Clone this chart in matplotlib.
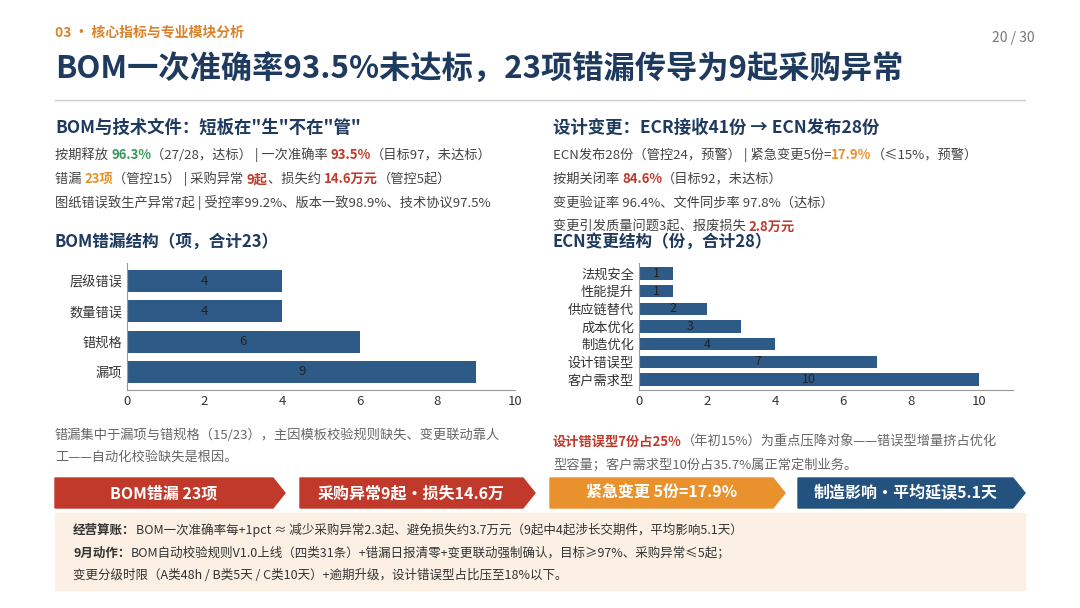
import matplotlib
matplotlib.use("Agg")
import matplotlib.pyplot as plt
from matplotlib.patches import Polygon, Rectangle

plt.rcParams['font.family'] = ['Noto Sans CJK SC', 'DejaVu Sans']

bom_cats = ["层级错误", "数量错误", "错规格", "漏项"]
bom_vals = [4, 4, 6, 9]
ecn_cats = ["法规安全", "性能提升", "供应链替代", "成本优化", "制造优化", "设计错误型", "客户需求型"]
ecn_vals = [1, 1, 2, 3, 4, 7, 10]
x_ticks = [0, 2, 4, 6, 8, 10]

W, H = 1080, 608
fig = plt.figure(figsize=(W/100, H/100), dpi=100)
NAVY = "#1f3a5f"; BAR = "#2e5a88"; GRAY = "#444444"
GREEN = "#3a9a5b"; RED = "#c0392b"; ORANGE = "#e8912d"

def T(x, y, s, **kw):
    kw.setdefault("va", "center")
    fig.text(x/W, 1-y/H, s, **kw)

def runs(x, y, parts, size=9.5):
    r = fig.canvas.get_renderer()
    cx = x
    for s, c, b in parts:
        t = fig.text(cx/W, 1-y/H, s, color=c, fontsize=size, va="center",
                     fontweight="bold" if b else "normal")
        bb = t.get_window_extent(renderer=r)
        cx += bb.width

T(55, 33, "03 • 核心指标与专业模块分析", color="#d9822b", fontsize=10, fontweight="bold")
T(1035, 38, "20 / 30", color="#777777", fontsize=10, ha="right")
T(55, 70, "BOM一次准确率93.5%未达标，23项错漏传导为9起采购异常", color=NAVY, fontsize=22.5, fontweight="bold")
fig.add_artist(plt.Line2D([55/W, 1025/W], [1-100/H]*2, color="#cccccc", lw=1))

T(55, 128, 'BOM与技术文件：短板在"生"不在"管"', color=NAVY, fontsize=12.5, fontweight="bold")
runs(55, 155, [("按期释放 ", GRAY, 0), ("96.3%", GREEN, 1), ("（27/28，达标） | 一次准确率 ", GRAY, 0), ("93.5%", RED, 1), ("（目标97，未达标）", GRAY, 0)])
runs(55, 179, [("错漏 ", GRAY, 0), ("23项", ORANGE, 1), ("（管控15） | 采购异常 ", GRAY, 0), ("9起", RED, 1), ("、损失约 ", GRAY, 0), ("14.6万元", RED, 1), ("（管控5起）", GRAY, 0)])
T(55, 203, "图纸错误致生产异常7起 | 受控率99.2%、版本一致98.9%、技术协议97.5%", color=GRAY, fontsize=9.5)
T(55, 242, "BOM错漏结构（项，合计23）", color=NAVY, fontsize=12, fontweight="bold")

T(553, 128, "设计变更：ECR接收41份 → ECN发布28份", color=NAVY, fontsize=12.5, fontweight="bold")
runs(553, 155, [("ECN发布28份（管控24，预警） | 紧急变更5份=", GRAY, 0), ("17.9%", ORANGE, 1), ("（≤15%，预警）", GRAY, 0)])
runs(553, 179, [("按期关闭率 ", GRAY, 0), ("84.6%", RED, 1), ("（目标92，未达标）", GRAY, 0)])
T(553, 203, "变更验证率 96.4%、文件同步率 97.8%（达标）", color=GRAY, fontsize=9.5)
runs(553, 227, [("变更引发质量问题3起、报废损失 ", GRAY, 0), ("2.8万元", RED, 1)])
T(553, 242, "ECN变更结构（份，合计28）", color=NAVY, fontsize=12, fontweight="bold")

def barchart(rect, cats, vals, xmax, fs):
    ax = fig.add_axes(rect)
    y = list(range(len(cats)))[::-1]
    ax.barh(y, vals, color=BAR, height=0.72 if len(cats) == 4 else 0.7)
    for yi, v in zip(y, vals):
        ax.text(v/2, yi, str(v), ha="center", va="center", fontsize=fs, color="#222222")
    ax.set_yticks(y); ax.set_yticklabels(cats, fontsize=fs, color="#333333")
    ax.set_xticks(x_ticks); ax.tick_params(labelsize=9.5, colors="#333333", length=0)
    ax.set_xlim(0, xmax); ax.set_ylim(-0.6, len(cats)-0.4)
    for s in ["top", "right"]:
        ax.spines[s].set_visible(False)
    for s in ["left", "bottom"]:
        ax.spines[s].set_color("#999999")
    ax.set_facecolor("none")
    return ax

barchart([127/W, 1-390/H, (515-127)/W, (390-263)/H], bom_cats, bom_vals, 10, 9.5)
barchart([639/W, 1-390/H, (1013-639)/W, (390-263)/H], ecn_cats, ecn_vals, 11, 9)

T(55, 435, "错漏集中于漏项与错规格（15/23），主因模板校验规则缺失、变更联动靠人", color="#666666", fontsize=9.5)
T(55, 457, "工——自动化校验缺失是根因。", color="#666666", fontsize=9.5)
runs(553, 442, [("设计错误型7份占25%", RED, 1), ("（年初15%）为重点压降对象——错误型增量挤占优化", "#666666", 0)])
T(553, 465, "型容量；客户需求型10份占35.7%属正常定制业务。", color="#666666", fontsize=9.5)

chev = [(55, 285, RED, "BOM错漏 23项"), (300, 535, RED, "采购异常9起•损失14.6万"),
        (550, 785, ORANGE, "紧急变更 5份=17.9%"), (798, 1025, "#24527f", "制造影响•平均延误5.1天")]
y0, y1 = 478, 508
for xa, xb, c, s in chev:
    pts = [(xa, y0), (xb-12, y0), (xb, (y0+y1)/2), (xb-12, y1), (xa, y1)]
    fig.add_artist(Polygon([(px/W, 1-py/H) for px, py in pts], closed=True, color=c, transform=fig.transFigure))
    T((xa+xb-12)/2, (y0+y1)/2, s, color="white", fontsize=11.5, fontweight="bold", ha="center")

fig.add_artist(Rectangle((55/W, 1-590/H), 970/W, 77/H, color="#fcf0e4", transform=fig.transFigure))
runs(73, 530, [("经营算账：", "#333333", 1), ("BOM一次准确率每+1pct ≈ 减少采购异常2.3起、避免损失约3.7万元（9起中4起涉长交期件，平均影响5.1天）", "#333333", 0)], size=9)
runs(73, 553, [("9月动作：", "#333333", 1), ("BOM自动校验规则V1.0上线（四类31条）+错漏日报清零+变更联动强制确认，目标≥97%、采购异常≤5起；", "#333333", 0)], size=9)
T(73, 575, "变更分级时限（A类48h / B类5天 / C类10天）+逾期升级，设计错误型占比压至18%以下。", color="#333333", fontsize=9)

fig.savefig("out.png", dpi=100, facecolor="white")
